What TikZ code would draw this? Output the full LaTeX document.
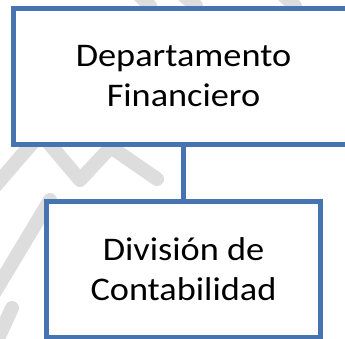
\documentclass[tikz,border=0pt]{standalone}
\usepackage{fontspec}
\setmainfont{Carlito}[FakeStretch=1.1]
\usetikzlibrary{positioning}
\definecolor{boxblue}{RGB}{70,116,176}
\definecolor{wgray}{RGB}{221,221,221}

\begin{document}
\begin{tikzpicture}[
		x=1pt, y=1pt,
		node distance=57pt,
		box/.style={draw=boxblue, line width=5pt, fill=white, outer sep=0pt, align=center, font=\fontsize{33}{40}\selectfont},
		link/.style={draw=boxblue, line width=5pt},
		wmark/.style={draw=wgray, line width=14pt, line cap=round, line join=round},
	]
		\useasboundingbox (0,0) rectangle (345,-339);
		\clip (0,0) rectangle (345,-339);
		\fill[white] (0,0) rectangle (345,-339);
		% faint watermark behind the chart
		\draw[wmark] (-10,-192) -- (35,-140);
		\draw[wmark] (42,-135) -- (80,-180) -- (122,-135);
		\draw[wmark] (-10,-300) -- (50,-200);
		\draw[wmark] (-5,-345) -- (12,-308);
		\draw[wmark] (115,-150) -- (157,-179);
		\draw[wmark] (138,6) -- (150,-6);
		\draw[wmark] (182,6) -- (196,-6);
		\draw[wmark] (282,6) -- (295,-6);
		% chart
		\node (fin) [box, minimum width=340pt, minimum height=136pt] at (183.5,-76.5) {Departamento\\Financiero};
		\node (cont) [box, minimum width=273.5pt, minimum height=135.5pt, below=of fin] {División de\\Contabilidad};
		\draw[link] (fin.south) -- (cont.north);
	\end{tikzpicture}
\end{document}
